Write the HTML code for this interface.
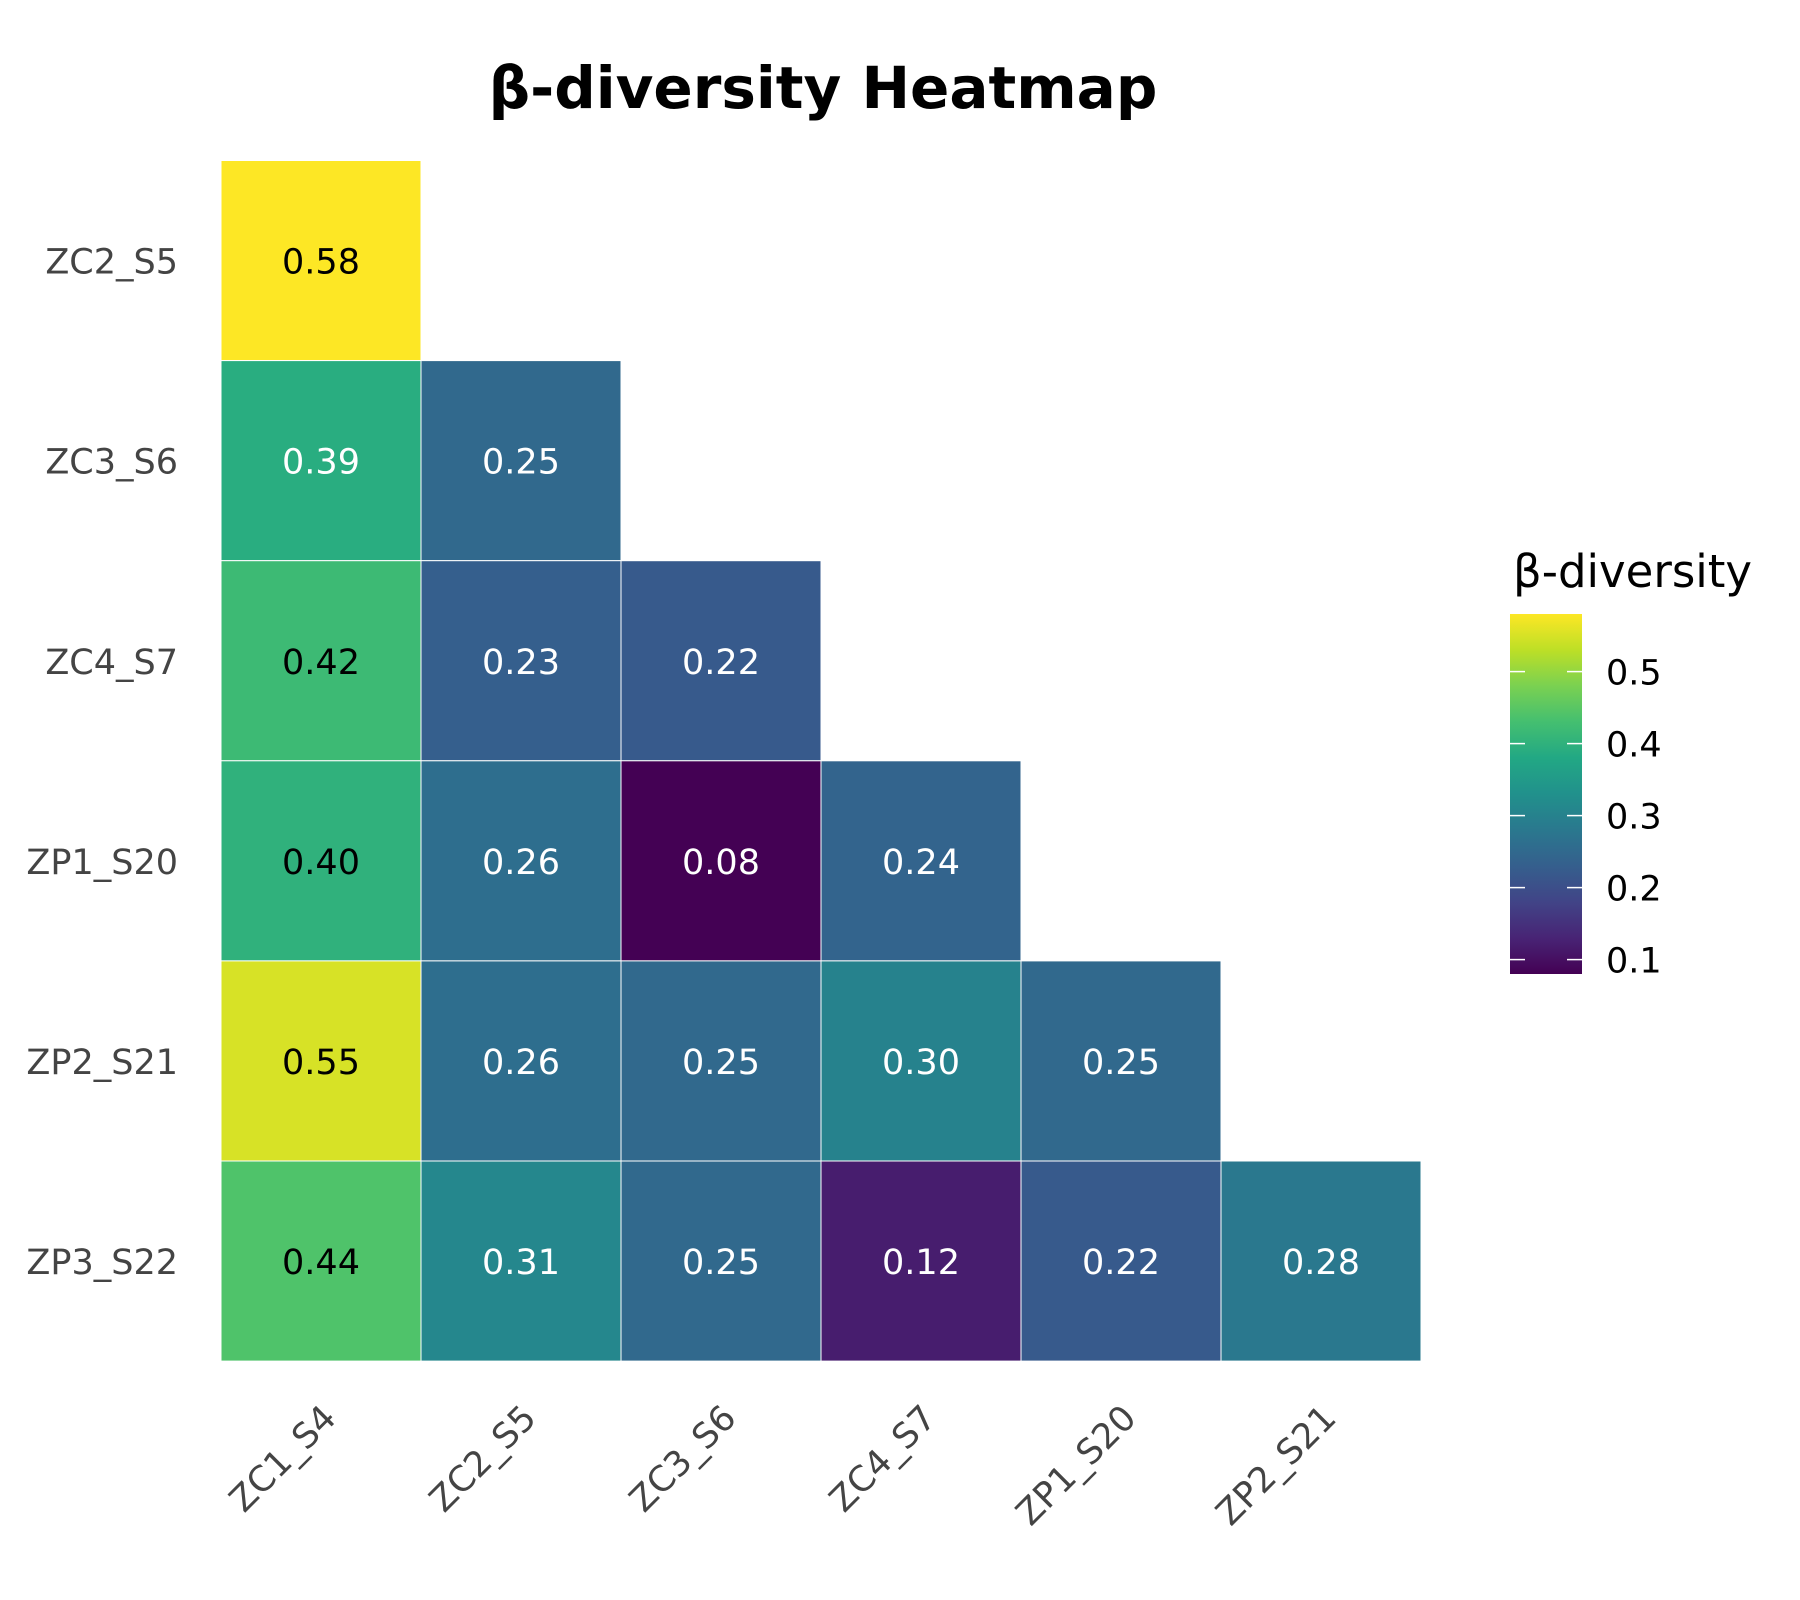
<!DOCTYPE html>
<html>
<head>
<meta charset="utf-8">
<style>
html,body{margin:0;padding:0;background:#fff;}
svg{display:block;}
text{font-family:"DejaVu Sans","Liberation Sans",sans-serif;}
</style>
</head>
<body>
<svg id="chart" width="1800" height="1600" viewBox="0 0 1800 1600" xmlns="http://www.w3.org/2000/svg">
  <defs>
    <linearGradient id="viridis" x1="0" y1="1" x2="0" y2="0">
      <stop offset="0" stop-color="#440154"/>
      <stop offset="0.1" stop-color="#482475"/>
      <stop offset="0.2" stop-color="#414487"/>
      <stop offset="0.3" stop-color="#355f8d"/>
      <stop offset="0.4" stop-color="#2a788e"/>
      <stop offset="0.5" stop-color="#21918c"/>
      <stop offset="0.6" stop-color="#22a884"/>
      <stop offset="0.7" stop-color="#44bf70"/>
      <stop offset="0.8" stop-color="#7ad151"/>
      <stop offset="0.9" stop-color="#bddf26"/>
      <stop offset="1" stop-color="#fde725"/>
    </linearGradient>
  </defs>
  <text x="823" y="108" text-anchor="middle" font-size="58" font-weight="bold" fill="#000">β-diversity Heatmap</text>
  <g id="cells"></g>
  <g id="ylabels"></g>
  <g id="xlabels"></g>
  <g id="colorbar">
    <text x="1513" y="587" font-size="45" fill="#000">β-diversity</text>
    <rect x="1510" y="614" width="72" height="360" fill="url(#viridis)"/>
  </g>
</svg>
<script>
const rowLabels = ["ZC2_S5","ZC3_S6","ZC4_S7","ZP1_S20","ZP2_S21","ZP3_S22"];
const colLabels = ["ZC1_S4","ZC2_S5","ZC3_S6","ZC4_S7","ZP1_S20","ZP2_S21"];
const row0 = [0.58];
const row1 = [0.39,0.25];
const row2 = [0.42,0.23,0.22];
const row3 = [0.40,0.26,0.08,0.24];
const row4 = [0.55,0.26,0.25,0.30,0.25];
const row5 = [0.44,0.31,0.25,0.12,0.22,0.28];
const cbTicks = [0.1,0.2,0.3,0.4,0.5];
const vmin = 0.08, vmax = 0.58;

const rows = [row0,row1,row2,row3,row4,row5];
const NS = "http://www.w3.org/2000/svg";
const gx0 = 221, gy0 = 160.5, cw = 200, ch = 200.1;
const xPos = i => gx0 + i*cw;
const yPos = j => gy0 + j*ch;
const stops = ["#440154","#482475","#414487","#355f8d","#2a788e","#21918c","#22a884","#44bf70","#7ad151","#bddf26","#fde725"];
function hex(h){return [1,3,5].map(k=>parseInt(h.substr(k,2),16));}
function viridis(v){
  let t = Math.max(0,Math.min(1,(v-vmin)/(vmax-vmin)))*10;
  let i = Math.min(9,Math.floor(t)), f = t-i;
  let a = hex(stops[i]), b = hex(stops[i+1]);
  return a.map((c,k)=>Math.round(c+(b[k]-c)*f));
}
function lum(rgb){
  const l = rgb.map(c=>{c/=255;return c<=0.03928?c/12.92:Math.pow((c+0.055)/1.055,2.4);});
  return 0.2126*l[0]+0.7152*l[1]+0.0722*l[2];
}
const cells = document.getElementById('cells');
rows.forEach((r,j)=>{
  r.forEach((v,i)=>{
    const c = viridis(v);
    const rect = document.createElementNS(NS,'rect');
    rect.setAttribute('x',xPos(i)); rect.setAttribute('y',yPos(j));
    rect.setAttribute('width',cw); rect.setAttribute('height',ch);
    rect.setAttribute('fill',`rgb(${c[0]},${c[1]},${c[2]})`);
    rect.setAttribute('stroke','#fff'); rect.setAttribute('stroke-width','1');
    
    
    cells.appendChild(rect);
    const t = document.createElementNS(NS,'text');
    t.setAttribute('x',xPos(i)+cw/2); t.setAttribute('y',yPos(j)+ch/2+13);
    t.setAttribute('text-anchor','middle'); t.setAttribute('font-size','35');
    t.setAttribute('fill', lum(c)>0.327 ? '#000' : '#fff');
    t.textContent = v.toFixed(2);
    
    
    cells.appendChild(t);
  });
});
const yl = document.getElementById('ylabels');
rowLabels.forEach((l,j)=>{
  const t = document.createElementNS(NS,'text');
  t.setAttribute('x',178); t.setAttribute('y',yPos(j)+ch/2+13);
  t.setAttribute('text-anchor','end'); t.setAttribute('font-size','35'); t.setAttribute('fill','#444');
  t.textContent = l;
  
  
  yl.appendChild(t);
});
const xl = document.getElementById('xlabels');
colLabels.forEach((l,i)=>{
  const t = document.createElementNS(NS,'text');
  const ax = xPos(i)+cw/2+17, ay = 1420;
  t.setAttribute('x',ax); t.setAttribute('y',ay);
  t.setAttribute('text-anchor','end'); t.setAttribute('font-size','35'); t.setAttribute('fill','#444');
  t.setAttribute('transform',`rotate(-45 ${ax} ${ay})`);
  t.textContent = l;
  
  
  xl.appendChild(t);
});
const cb = document.getElementById('colorbar');
const cbY = v => 974 - (v-vmin)/(vmax-vmin)*360;
cbTicks.forEach(v=>{
  const y = cbY(v);
  [[1510,1525],[1567,1582]].forEach(s=>{
    const ln = document.createElementNS(NS,'line');
    ln.setAttribute('x1',s[0]); ln.setAttribute('x2',s[1]);
    ln.setAttribute('y1',y); ln.setAttribute('y2',y);
    ln.setAttribute('stroke','#fff'); ln.setAttribute('stroke-width','1.5');
    
    
    cb.appendChild(ln);
  });
  const t = document.createElementNS(NS,'text');
  t.setAttribute('x',1606); t.setAttribute('y',y+13);
  t.setAttribute('font-size','35'); t.setAttribute('fill','#000');
  t.textContent = v.toFixed(1);
  
  
  cb.appendChild(t);
});
</script>
</body>
</html>
